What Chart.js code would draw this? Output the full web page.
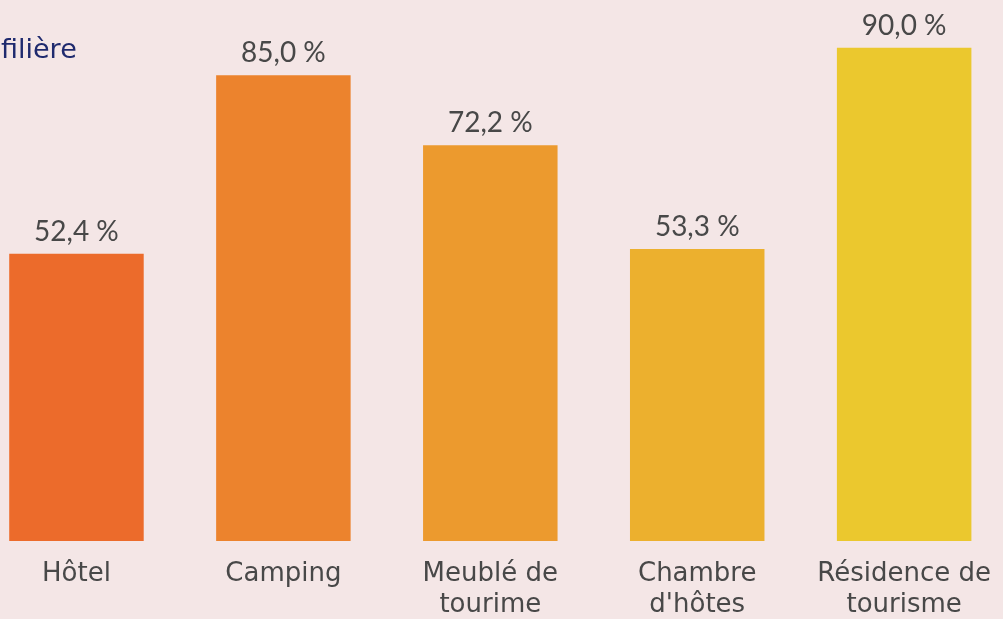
<!DOCTYPE html>
<html>
<head>
<meta charset="utf-8">
<script src="https://cdn.jsdelivr.net/npm/chart.js@4"></script>
<style>
  html, body { margin: 0; padding: 0; background: #f4e6e6; overflow: hidden; }
  body { width: 1003px; height: 619px; position: relative; }
  #wrap { position: absolute; left: -27px; top: -7px; }
  #title { position: absolute; left: 1px; top: 35px; font: 27px/27px "DejaVu Sans", sans-serif; color: #1f2a6e; }
</style>
</head>
<body>
<div id="wrap"><canvas id="chart" width="1036" height="626"></canvas></div>
<div id="title">filière</div>
<script>
const categories = ['Hôtel', 'Camping', ['Meublé de', 'tourime'], ['Chambre', "d'hôtes"], ['Résidence de', 'tourisme']];
const values = [52.4, 85.0, 72.2, 53.3, 90.0];
const barColors = ['#ec6b2b', '#ec832d', '#ec9a2e', '#ecb02e', '#ebc82e'];

// labels above each bar, "52,4 %"
const valueLabels = {
    id: 'valueLabels',
    afterDatasetsDraw(chart) {
        const ctx = chart.ctx;
        const meta = chart.getDatasetMeta(0);
        ctx.save();
        ctx.font = '28px Lato, sans-serif';
        ctx.fillStyle = '#484848';
        ctx.textAlign = 'center';
        ctx.textBaseline = 'alphabetic';
        meta.data.forEach((bar, i) => {
            const txt = values[i].toFixed(1).replace('.', ',') + ' %';
            ctx.fillText(txt, bar.x, bar.y - 13);
        });
        ctx.restore();
    }
};

new Chart(document.getElementById('chart'), {
    type: 'bar',
    data: {
        labels: categories,
        datasets: [{
            data: values,
            backgroundColor: barColors,
            categoryPercentage: 1,
            barPercentage: 0.65
        }]
    },
    options: {
        responsive: false,
        animation: false,
        plugins: { legend: { display: false }, tooltip: { enabled: false } },
        layout: { padding: 0 },
        scales: {
            x: {
                grid: { display: false, drawTicks: false },
                border: { display: false },
                afterFit(scale) { scale.height = 78; },
                ticks: {
                    color: '#484848',
                    font: { family: '"DejaVu Sans", sans-serif', size: 26, lineHeight: '31px' },
                    padding: 18,
                    maxRotation: 0,
                    autoSkip: false
                }
            },
            y: { display: false, min: 0, max: 100 }
        }
    },
    plugins: [valueLabels]
});
</script>
</body>
</html>
